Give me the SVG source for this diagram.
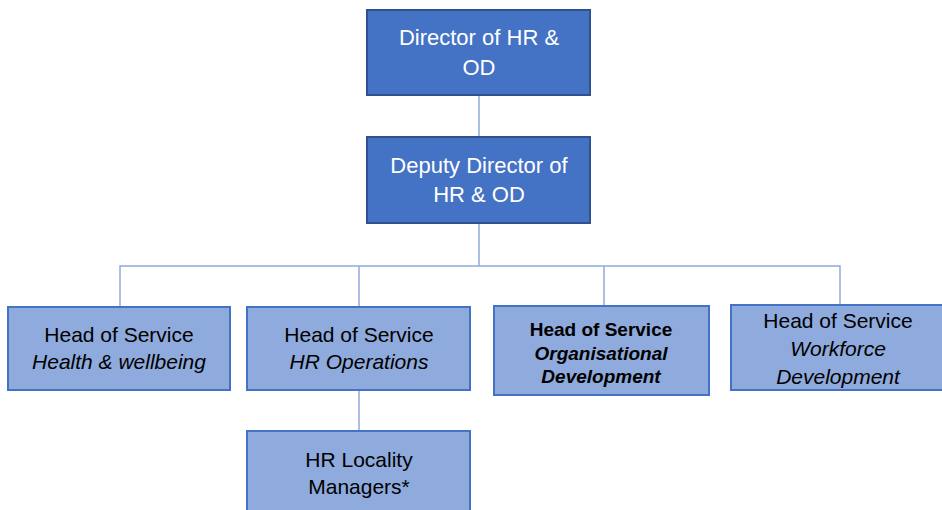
<svg xmlns="http://www.w3.org/2000/svg" width="942" height="510" viewBox="0 0 942 510">
<style>
.dark{fill:#4472C4;stroke:#2F528F;stroke-width:2}
.light{fill:#8FAADC;stroke:#4472C4;stroke-width:2}
.tw{fill:#FFFFFF;font-family:"Liberation Sans",Arial,sans-serif;font-size:22px;text-anchor:middle}
.tb{fill:#000000;font-family:"Liberation Sans",Arial,sans-serif;font-size:21px;text-anchor:middle}
.tb2{fill:#000000;font-family:"Liberation Sans",Arial,sans-serif;font-size:19px;text-anchor:middle;font-weight:bold}
.it{font-style:italic}
.conn{fill:none;stroke:#8FAADC;stroke-width:1.5}
</style>
<rect width="942" height="510" fill="#FFFFFF"/>
<g id="connectors">
<line class="conn" x1="479" y1="95" x2="479" y2="137"/>
<line class="conn" x1="479" y1="223" x2="479" y2="266"/>
<polyline class="conn" points="120,306 120,266 840,266 840,305"/>
<line class="conn" x1="359" y1="266" x2="359" y2="307"/>
<line class="conn" x1="604" y1="266" x2="604" y2="306"/>
<line class="conn" x1="359" y1="390" x2="359" y2="431"/>
</g>
<g id="director">
<rect class="dark" x="367" y="10" width="223" height="85"/>
<text class="tw" x="479" y="45">Director of HR &amp;</text>
<text class="tw" x="479" y="75">OD</text>
</g>
<g id="deputy">
<rect class="dark" x="367" y="137" width="223" height="86"/>
<text class="tw" x="479" y="173">Deputy Director of</text>
<text class="tw" x="479" y="202">HR &amp; OD</text>
</g>
<g id="hos-health">
<rect class="light" x="8" y="307" width="222" height="83"/>
<text class="tb" x="119" y="342">Head of Service</text>
<text class="tb it" x="119" y="369">Health &amp; wellbeing</text>
</g>
<g id="hos-hrops">
<rect class="light" x="247" y="307" width="223" height="83"/>
<text class="tb" x="359" y="342">Head of Service</text>
<text class="tb it" x="359" y="369">HR Operations</text>
</g>
<g id="hos-od">
<rect class="light" x="494" y="306" width="215" height="89"/>
<text class="tb2" x="601" y="336">Head of Service</text>
<text class="tb2 it" x="601" y="360">Organisational</text>
<text class="tb2 it" x="601" y="383">Development</text>
</g>
<g id="hos-workforce">
<rect class="light" x="731" y="305" width="215" height="85"/>
<text class="tb" x="838" y="328">Head of Service</text>
<text class="tb it" x="838" y="356">Workforce</text>
<text class="tb it" x="838" y="384">Development</text>
</g>
<g id="hr-locality">
<rect class="light" x="247" y="431" width="223" height="85"/>
<text class="tb" x="359" y="467">HR Locality</text>
<text class="tb" x="359" y="494">Managers*</text>
</g>
</svg>
